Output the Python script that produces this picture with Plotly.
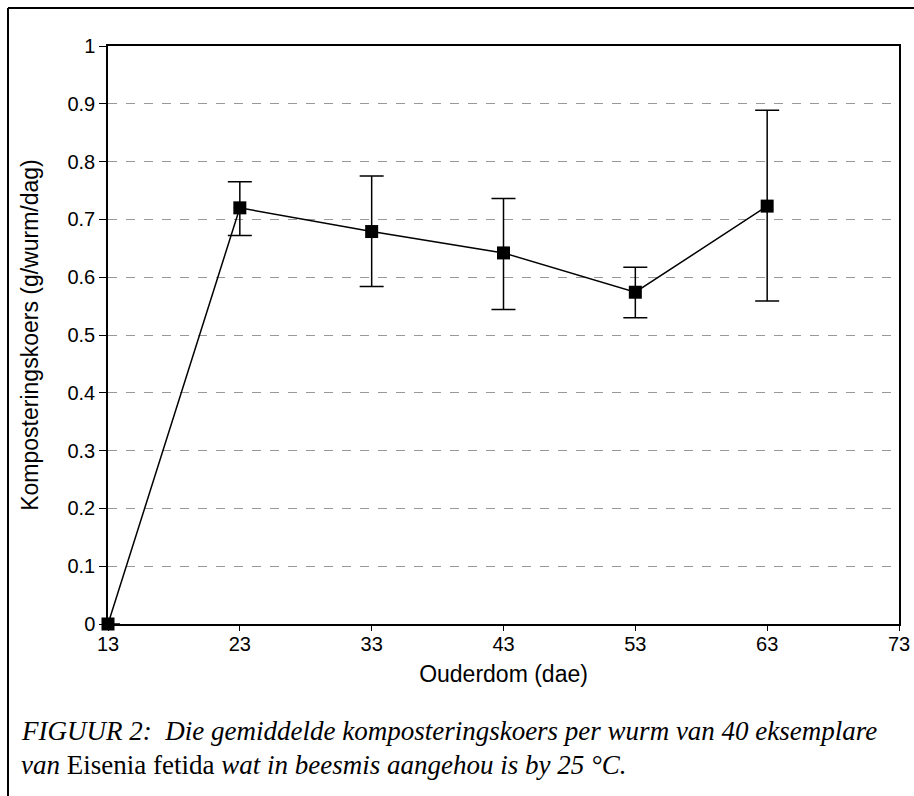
import plotly.graph_objects as go

ouderdom = [13, 23, 33, 43, 53, 63]
koers = [0.0, 0.720, 0.679, 0.642, 0.574, 0.723]
fout_bo = [0.0, 0.045, 0.096, 0.094, 0.043, 0.166]
fout_onder = [0.0, 0.048, 0.095, 0.098, 0.044, 0.164]

x_ticks = [13, 23, 33, 43, 53, 63, 73]
y_ticks = [0, 0.1, 0.2, 0.3, 0.4, 0.5, 0.6, 0.7, 0.8, 0.9, 1]
y_labels = ["0", "0.1", "0.2", "0.3", "0.4", "0.5", "0.6", "0.7", "0.8", "0.9", "1"]

caption1 = "<i>FIGUUR 2:&nbsp;&nbsp;Die gemiddelde komposteringskoers per wurm van 40 eksemplare</i>"
caption2 = "<i>van</i> Eisenia fetida <i>wat in beesmis aangehou is by 25 °C.</i>"

fig = go.Figure()
fig.add_trace(go.Scatter(
    x=ouderdom, y=koers, mode="lines+markers",
    line=dict(color="black", width=1.5),
    marker=dict(symbol="square", size=13, color="black"),
    error_y=dict(type="data", symmetric=False, array=fout_bo, arrayminus=fout_onder,
                 color="black", thickness=1.5, width=12),
    cliponaxis=False, showlegend=False,
))

tick_font = dict(family="Liberation Sans, Arial, sans-serif", size=20, color="black")
title_font = dict(family="Liberation Sans, Arial, sans-serif", size=23, color="black")
cap_font = dict(family="Liberation Serif, Times New Roman, serif", size=27, color="black")

fig.update_layout(
    width=914, height=796,
    margin=dict(l=108, r=15, t=46, b=172),
    paper_bgcolor="white", plot_bgcolor="white",
    font=tick_font,
    xaxis=dict(range=[13, 73], tickvals=x_ticks, ticktext=[str(t) for t in x_ticks],
               showline=True, linecolor="black", linewidth=2, mirror=True,
               ticks="outside", ticklen=5, tickcolor="black", tickwidth=1,
               ticklabelstandoff=-4, automargin=False, ticklabeloverflow="allow",
               showgrid=False, zeroline=False,
               title=dict(text="Ouderdom (dae)", font=title_font, standoff=12),
               tickfont=tick_font),
    yaxis=dict(range=[0, 1], tickvals=y_ticks, ticktext=y_labels,
               showline=True, linecolor="black", linewidth=1.5, mirror=True,
               ticks="outside", ticklen=7, tickcolor="black", tickwidth=1,
               showgrid=True, gridcolor="#999999", griddash="dash", gridwidth=1,
               zeroline=False, automargin=False,
               title=dict(text="Komposteringskoers (g/wurm/dag)", font=title_font, standoff=22),
               tickfont=tick_font),
    shapes=[
        dict(type="line", xref="paper", yref="paper", xsizemode="pixel", ysizemode="pixel",
             xanchor=0, yanchor=0, x0=-100, x1=-100, y0=-200, y1=616,
             line=dict(color="black", width=2)),
        dict(type="line", xref="paper", yref="paper", xsizemode="pixel", ysizemode="pixel",
             xanchor=0, yanchor=0, x0=-100, x1=820, y0=616, y1=616,
             line=dict(color="black", width=2)),
    ],
    annotations=[
        dict(text=caption1, xref="paper", yref="paper", x=-0.113, y=-0.1851,
             xanchor="left", yanchor="middle", showarrow=False, font=cap_font),
        dict(text=caption2, xref="paper", yref="paper", x=-0.113, y=-0.2439,
             xanchor="left", yanchor="middle", showarrow=False, font=cap_font),
    ],
)

fig.write_html(
    "out.html",
    config={"displayModeBar": False},
    post_script=(
        "document.body.style.margin='0';"
        "document.body.style.overflow='hidden';"
        "document.documentElement.style.overflow='hidden';"
    ),
)
